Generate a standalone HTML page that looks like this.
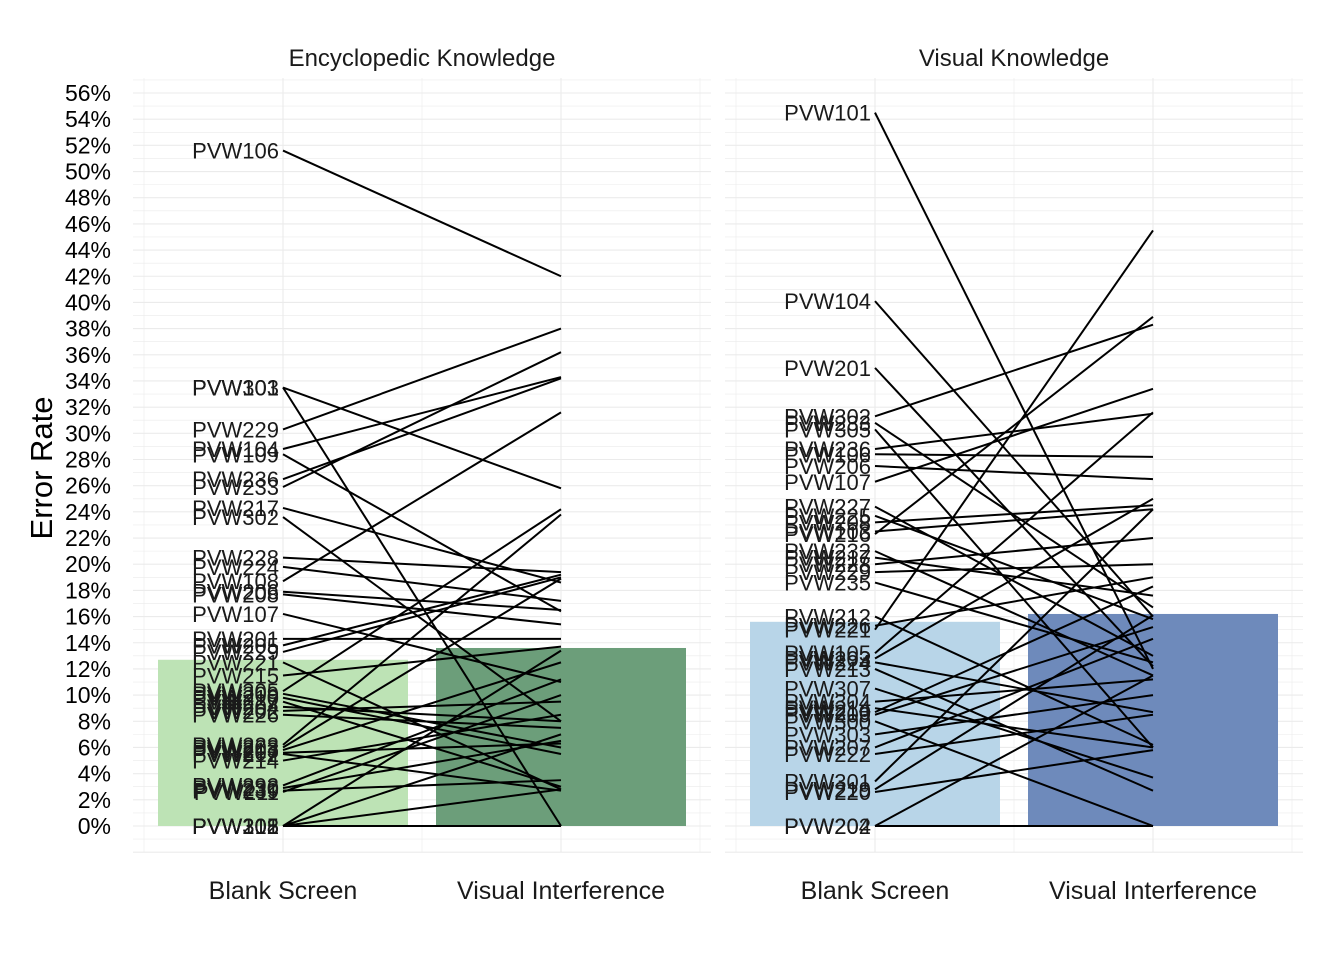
<!DOCTYPE html>
<html><head><meta charset="utf-8"><style>
body{margin:0;background:#fff}
svg{display:block;font-family:"Liberation Sans",sans-serif}
</style></head><body>
<svg id="chart" width="1344" height="960" viewBox="0 0 1344 960"></svg>
<script>
const yTicks=[0,2,4,6,8,10,12,14,16,18,20,22,24,26,28,30,32,34,36,38,40,42,44,46,48,50,52,54,56];
const conditions=["Blank Screen","Visual Interference"];
const panels=["Encyclopedic Knowledge","Visual Knowledge"];
const barMeans=[[12.7,13.6],[15.6,16.2]];
const encLabels=["PVW106","PVW303","PVW101","PVW229","PVW104","PVW109","PVW236","PVW233","PVW217","PVW302","PVW228","PVW224","PVW108","PVW206","PVW208","PVW107","PVW201","PVW205","PVW229b","PVW221","PVW215","PVW305","PVW209","PVW210","PVW227","PVW204","PVW202","PVW226","PVW222","PVW203","PVW213","PVW207","PVW212","PVW214","PVW292","PVW230","PVW239","PVW211","PVW301","PVW305b","PVW218","PVW102"];
const encBlank=[51.6,33.5,33.5,30.3,28.8,28.4,26.5,25.9,24.3,23.6,20.5,19.8,18.7,17.9,17.7,16.2,14.3,13.8,13.3,12.5,11.5,10.3,10.1,9.8,9.5,9.1,8.8,8.5,6.2,6.0,5.8,5.6,5.5,5.0,3.1,2.9,2.7,2.6,0,0,0,0];
const encVisual=[42,0,25.8,38,34.3,16.4,34.2,36.2,18.6,8.0,19.4,17.2,31.6,16.5,15.4,11.0,14.3,19.2,19.0,2.8,13.7,24.2,6.0,5.5,3.0,8.0,9.5,7.5,23.8,18.9,12.5,6.3,2.7,8.5,11.2,6.5,3.5,10.0,0,13.4,7.0,2.8];
const visLabels=["PVW101","PVW104","PVW201","PVW302","PVW233","PVW305","PVW236","PVW106","PVW206","PVW107","PVW227","PVW225","PVW208","PVW103","PVW216","PVW232","PVW217","PVW228","PVW229","PVW235","PVW212","PVW226","PVW221","PVW105","PVW203","PVW224","PVW213","PVW307","PVW304","PVW214","PVW210","PVW209","PVW300","PVW303","PVW207","PVW222","PVW301a","PVW219","PVW220","PVW202","PVW204"];
const visBlank=[54.5,40.1,35.0,31.3,30.8,30.3,28.8,28.4,27.5,26.3,24.4,23.7,23.2,22.5,22.3,21.0,20.5,20.0,19.4,18.6,16.0,15.3,15.0,13.2,12.8,12.5,12.0,10.5,9.5,9.0,8.7,8.5,8.0,7.0,6.0,5.5,3.4,2.8,2.6,0,0];
const visVisual=[12.0,16.0,12.2,38.3,16.7,6.0,31.5,28.2,26.5,33.4,13.0,15.8,24.5,24.2,38.9,11.5,17.6,22.0,20.0,12.5,6.2,19.0,45.5,31.6,25.0,8.7,2.7,3.7,11.2,6.0,18.3,15.2,0,10.0,14.3,8.5,24.2,16.1,5.8,0,11.5];

const svg=document.getElementById('chart');
const NS='http://www.w3.org/2000/svg';
function el(tag,attrs,parent){const e=document.createElementNS(NS,tag);for(const k in attrs)e.setAttribute(k,attrs[k]);(parent||svg).appendChild(e);return e;}
function y(v){return 826-v*(826-93)/56;}
const panelX=[{l:133,r:711,x0:283,x1:561},{l:725,r:1303,x0:875,x1:1153}];
function xc(p,i){return i===0?panelX[p].x0:panelX[p].x1;}

for(const t of yTicks){
  const tx=el('text',{x:111,y:y(t)+8,'text-anchor':'end','font-size':'23','fill':'#000'});
  tx.textContent=t+'%';
  
  
}
const yt=el('text',{x:0,y:0,'font-size':'31','fill':'#000','text-anchor':'middle',transform:'translate(52,468) rotate(-90)'});
yt.textContent='Error Rate';



const data=[[encLabels,encBlank,encVisual],[visLabels,visBlank,visVisual]];
const barCols=[["#bde3b5","#6c9e7a"],["#b8d5e8","#6e8abb"]];
for(let p=0;p<2;p++){
  const P=panelX[p];
  const g=el('g',{});
  
  
  for(let v=-2;v<=57;v++){
    el('line',{x1:P.l,x2:P.r,y1:y(v),y2:y(v),stroke:'#ebebeb','stroke-width':v%2===0?1.1:0.6},g);
  }
  for(const gx of [P.x0-139,(P.x0+P.x1)/2,P.x1+139]) el('line',{x1:gx,x2:gx,y1:78,y2:852,stroke:'#ebebeb','stroke-width':0.6},g);
  for(const gx of [P.x0,P.x1]) el('line',{x1:gx,x2:gx,y1:78,y2:852,stroke:'#ebebeb','stroke-width':1.1},g);
  const tt=el('text',{x:(P.x0+P.x1)/2,y:66,'text-anchor':'middle','font-size':'24','fill':'#1a1a1a'},g);
  tt.textContent=panels[p];
  
  
  for(let i=0;i<2;i++){
    const v=barMeans[p][i];
    const b=el('rect',{x:xc(p,i)-125,y:y(v),width:250,height:y(0)-y(v),fill:barCols[p][i]},g);
    
    
    const xl=el('text',{x:xc(p,i),y:899,'text-anchor':'middle','font-size':'25','fill':'#1a1a1a'},g);
    xl.textContent=conditions[i];
    
    
  }
  const [labs,a,b]=data[p];
  for(let k=0;k<labs.length;k++){
    const ln=el('line',{x1:xc(p,0),y1:y(a[k]),x2:xc(p,1),y2:y(b[k]),stroke:'#000','stroke-width':2},g);
    
    
    const lt=el('text',{x:xc(p,0)-4,y:y(a[k])+8,'text-anchor':'end','font-size':'22','fill':'#1a1a1a'},g);
    lt.textContent=labs[k].replace(/[ab]$/,'');
    
    
  }
}
</script>
</body></html>
